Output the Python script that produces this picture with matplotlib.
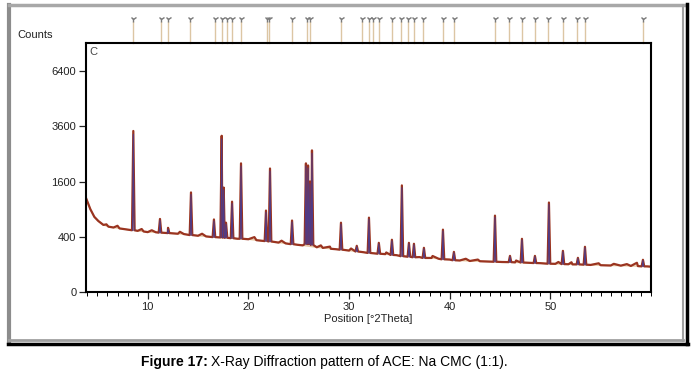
import numpy as np
import matplotlib
matplotlib.use("Agg")
import matplotlib.pyplot as plt
import matplotlib.transforms as mtransforms
from matplotlib.lines import Line2D

plt.rcParams['font.family'] = ['Liberation Sans', 'DejaVu Sans']

# background (counts read along the baseline of the trace)
bg_theta = [3.9, 4.3, 4.7, 5.1, 5.6, 6.1, 6.6, 7.2, 7.8, 8.2, 9.0, 9.6, 10.0,
            10.8, 12.0, 13.0, 13.6, 15.0, 15.8, 16.3, 18.9, 20.0, 20.8, 21.3,
            23.0, 23.7, 24.9, 25.4, 26.8, 27.4, 28.2, 28.7, 30.0, 31.4, 33.6,
            34.7, 35.0, 37.0, 38.2, 38.9, 40.0, 41.0, 42.0, 43.0, 44.0, 45.2,
            46.5, 47.8, 49.0, 49.5, 50.5, 51.8, 52.2, 54.0, 55.0, 56.0, 57.0,
            58.0, 58.7, 59.6, 60.0]
bg_counts = [1140, 900, 740, 660, 590, 560, 545, 530, 515, 505, 490, 480, 470,
             468, 455, 445, 440, 415, 405, 398, 372, 365, 352, 345, 320, 310,
             292, 285, 262, 255, 245, 240, 225, 208, 188, 178, 172, 160, 152,
             145, 138, 130, 126, 124, 121, 118, 115, 112, 109, 106, 104, 101,
             100, 96, 94, 92, 91, 89, 88, 86, 84]

# small bumps on the baseline: position, top count
bump_pos = [5.9, 7.0, 9.4, 10.4, 13.2, 15.4, 20.6, 23.3, 27.2, 28.1, 30.2,
            33.7, 38.3, 41.6, 42.8, 46.6, 50.8, 52.1, 54.8, 56.3, 57.6, 58.6]
bump_top = [600, 575, 520, 500, 475, 445, 395, 345, 285, 270, 248, 205, 170,
            145, 138, 130, 118, 116, 108, 104, 102, 112]

# peaks: position [deg 2theta], count at the foot, count at the top
peak_pos = [8.57, 11.22, 12.02, 14.30, 16.58, 17.35, 17.55, 17.78, 18.38,
            19.27, 21.75, 22.15, 24.34, 25.72, 25.93, 26.12, 26.32, 29.20,
            30.77, 31.98, 32.96, 34.26, 35.25, 35.95, 36.45, 37.44, 39.33,
            40.42, 44.50, 45.99, 47.18, 48.47, 49.86, 51.25, 52.74, 53.44,
            59.20]
peak_base = [500, 462, 455, 425, 395, 390, 388, 385, 380, 372, 340, 335, 300,
             300, 310, 300, 290, 235, 215, 200, 192, 180, 168, 163, 158, 152,
             140, 132, 120, 117, 114, 110, 105, 102, 100, 98, 86]
peak_top = [3400, 700, 540, 1300, 690, 3200, 1430, 630, 1070, 2170, 870, 2000,
            670, 2170, 2100, 1600, 2630, 630, 280, 725, 317, 358, 1490, 317,
            305, 256, 510, 211, 765, 171, 371, 171, 1050, 222, 153, 268, 136]

# reference line positions shown above the plot
ref_pos = [8.54, 11.32, 12.02, 14.20, 16.68, 17.38, 17.87, 18.37, 19.27, 21.85,
           22.05, 24.34, 25.83, 26.12, 29.20, 31.29, 31.98, 32.38, 32.97, 34.27,
           35.16, 35.86, 36.45, 37.35, 39.33, 40.42, 44.50, 45.89, 47.18, 48.47,
           49.76, 51.25, 52.64, 53.44, 59.20]

yticks = [0, 400, 1600, 3600, 6400]
xticks = [10, 20, 30, 40, 50]

# build the observed trace: background points, bumps and a spike per peak
hw = 0.13
pts = list(zip(bg_theta, bg_counts))
pts += list(zip(bump_pos, bump_top))
for p, b, t in zip(peak_pos, peak_base, peak_top):
    pts += [(p - hw, b), (p, t), (p + hw, b)]
pts.sort()
obs_x = [a for a, _ in pts]
obs_y = [c for _, c in pts]

fig = plt.figure(figsize=(6.94, 3.76), dpi=100)
ax = fig.add_axes([86 / 694, 84 / 376, 565 / 694, 249 / 376])

ax.set_yscale('function', functions=(lambda v: np.sqrt(np.clip(v, 0, None)),
                                     lambda v: np.asarray(v) ** 2))

ax.plot(bg_theta, bg_counts, color='#e8c8a0', lw=1.0, zorder=1)
ax.plot(obs_x, obs_y, color='#9a3420', lw=1.6, zorder=2)
for p, b, t in zip(peak_pos, peak_base, peak_top):
    ax.plot([p - hw * 0.6, p, p + hw * 0.6], [b, t * 0.96, b],
            color='#453c96', lw=0.7, alpha=0.9, zorder=3)

ax.set_xlim(3.87, 60.0)
ax.set_ylim(0, 8130)
ax.set_yticks(yticks)
ax.set_yticklabels([str(v) for v in yticks])
ax.set_xticks(xticks)
ax.set_xticks(np.arange(4, 61, 1), minor=True)
ax.yaxis.set_minor_locator(matplotlib.ticker.NullLocator())
ax.tick_params(axis='both', which='major', direction='out', length=5,
               width=0.9, labelsize=8, colors='#222222', pad=2)
ax.tick_params(axis='x', which='minor', direction='out', length=3, width=0.7)
for s in ax.spines.values():
    s.set_linewidth(1.5)
    s.set_color('black')

ax.set_xlabel('Position [°2Theta]', fontsize=8, color='#222222', labelpad=2)
ax.text(0.006, 0.985, 'C', transform=ax.transAxes, fontsize=8, va='top',
        ha='left', color='#444444')
fig.text(17 / 694, 1 - 35 / 376, 'Counts', fontsize=8, va='center',
         color='#222222')

# reference sticks above the frame
trans = mtransforms.blended_transform_factory(ax.transData, ax.transAxes)
for p in ref_pos:
    ax.plot([p, p], [1.0, 1.085], color='#dcc6a4', lw=1.0,
            transform=trans, clip_on=False)
    ax.plot([p], [1.097], marker='1', ms=4.5, mew=1.0, color='#7a7a7a',
            transform=trans, clip_on=False)

# outer frame
W, H = 694, 376
def fline(xs, ys, **kw):
    fig.add_artist(Line2D([x / W for x in xs], [1 - y / H for y in ys],
                          transform=fig.transFigure, **kw))

fline([9, 9], [5, 342], color='#8c8c8c', lw=3)
fline([9, 685], [5, 5], color='#a8a8a8', lw=2.5)
fline([683, 683], [5, 341], color='#a0a0a0', lw=1.5)
fline([9, 683], [340, 340], color='#a0a0a0', lw=2)
fline([686.5, 686.5], [4, 344], color='black', lw=2.5)
fline([8, 688], [343.5, 343.5], color='black', lw=2.5)

# caption
t1 = fig.text(141 / W, 1 - 362 / H, 'Figure 17:', fontsize=10,
              fontweight='bold', va='center', ha='left')
fig.canvas.draw()
bb = t1.get_window_extent()
fig.text(bb.x1 / W + 3 / W, 1 - 362 / H,
         'X-Ray Diffraction pattern of ACE: Na CMC (1:1).', fontsize=10,
         va='center', ha='left')

fig.savefig('out.png', dpi=100)
